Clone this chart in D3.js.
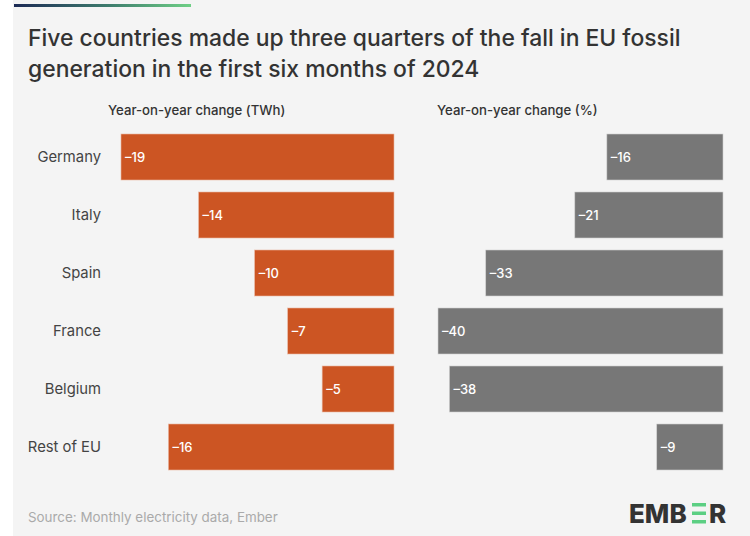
<!DOCTYPE html>
<html><head><meta charset="utf-8">
<script src="https://cdn.jsdelivr.net/npm/d3@7"></script>
<style>
html,body{margin:0;padding:0;background:#fff;}
svg{display:block;font-family:Inter, "Noto Sans", sans-serif;}
</style></head>
<body>
<script>
const categories = ["Germany","Italy","Spain","France","Belgium","Rest of EU"];
const twhValues = [-19.0,-13.6,-9.7,-7.4,-5.0,-15.7];
const pctValues = [-16.3,-20.8,-33.3,-40.0,-38.4,-9.3];
const titleLines = ["Five countries made up three quarters of the fall in EU fossil","generation in the first six months of 2024"];
const panelTitles = ["Year-on-year change (TWh)","Year-on-year change (%)"];
const sourceText = "Source: Monthly electricity data, Ember";

const W=750,H=536;
const svg=d3.select("body").append("svg").attr("width",W).attr("height",H);
svg.append("rect").attr("x",13).attr("y",0).attr("width",W-13).attr("height",H).attr("fill","#f4f4f4");

const defs=svg.append("defs");
const grad=defs.append("linearGradient").attr("id","topg");
grad.append("stop").attr("offset","0%").attr("stop-color","#1c2a55");
grad.append("stop").attr("offset","55%").attr("stop-color","#3f7f6e");
grad.append("stop").attr("offset","100%").attr("stop-color","#6fcf86");
svg.append("rect").attr("x",14).attr("y",4).attr("width",177).attr("height",3).attr("fill","url(#topg)");

svg.append("g").selectAll("text").data(titleLines).join("text")
  .attr("x",28).attr("y",(d,i)=>46+i*31)
  .attr("font-size",22.9).attr("font-weight",500).attr("fill","#333")
  .text(d=>d);

const y2=d3.scaleBand().domain(categories).range([128,476]).padding(0);
const bandY=c=>y2(c)+6, bh=46;

const xL=d3.scaleLinear().domain([d3.min(twhValues),0]).range([121,394]);
const xR=d3.scaleLinear().domain([d3.min(pctValues),0]).range([438,723]);

svg.append("text").attr("x",108).attr("y",115).attr("font-size",13.2).attr("font-weight",500).attr("fill","#333").text(panelTitles[0]);
svg.append("text").attr("x",437).attr("y",115).attr("font-size",13.2).attr("font-weight",500).attr("fill","#333").text(panelTitles[1]);

const rowsL=categories.map((c,i)=>({c,v:twhValues[i]}));
const rowsR=categories.map((c,i)=>({c,v:pctValues[i]}));

svg.append("g").selectAll("text").data(categories).join("text")
  .attr("x",101).attr("y",c=>bandY(c)+bh/2).attr("dy","0.35em")
  .attr("text-anchor","end").attr("font-size",14.8).attr("fill","#444").text(c=>c);

const fmt=v=>"–"+Math.round(-v);
const gL=svg.append("g");
gL.selectAll("rect").data(rowsL).join("rect")
  .attr("x",d=>xL(d.v)).attr("y",d=>bandY(d.c)).attr("width",d=>xL(0)-xL(d.v)).attr("height",bh)
  .attr("fill","#cc5523").attr("stroke","#e9b7a2").attr("stroke-width",0.6);
gL.selectAll("text").data(rowsL).join("text")
  .attr("x",d=>xL(d.v)+4).attr("y",d=>bandY(d.c)+bh/2).attr("dy","0.35em")
  .attr("font-size",13).attr("font-weight",500).attr("fill","#fff").text(d=>fmt(d.v));

const gR=svg.append("g");
gR.selectAll("rect").data(rowsR).join("rect")
  .attr("x",d=>xR(d.v)).attr("y",d=>bandY(d.c)).attr("width",d=>xR(0)-xR(d.v)).attr("height",bh)
  .attr("fill","#777777").attr("stroke","#cfcfcf").attr("stroke-width",0.6);
gR.selectAll("text").data(rowsR).join("text")
  .attr("x",d=>xR(d.v)+4).attr("y",d=>bandY(d.c)+bh/2).attr("dy","0.35em")
  .attr("font-size",13).attr("font-weight",500).attr("fill","#fff").text(d=>fmt(d.v));

svg.append("text").attr("x",28).attr("y",522).attr("font-size",13.4).attr("fill","#aaaaaa").text(sourceText);

// EMBER logo
const logo=svg.append("g").attr("font-size",26).attr("font-weight",800).attr("fill","#333").attr("font-family","Inter, sans-serif");
logo.append("text").attr("x",629).attr("y",523).text("EMB");
const eX=692, eW=14;
[503,511.5,520].forEach(yy=>logo.append("rect").attr("x",eX).attr("y",yy).attr("width",eW).attr("height",3.5).attr("fill","#5ccf83"));
logo.append("text").attr("x",709).attr("y",523).text("R");
</script>
</body></html>
